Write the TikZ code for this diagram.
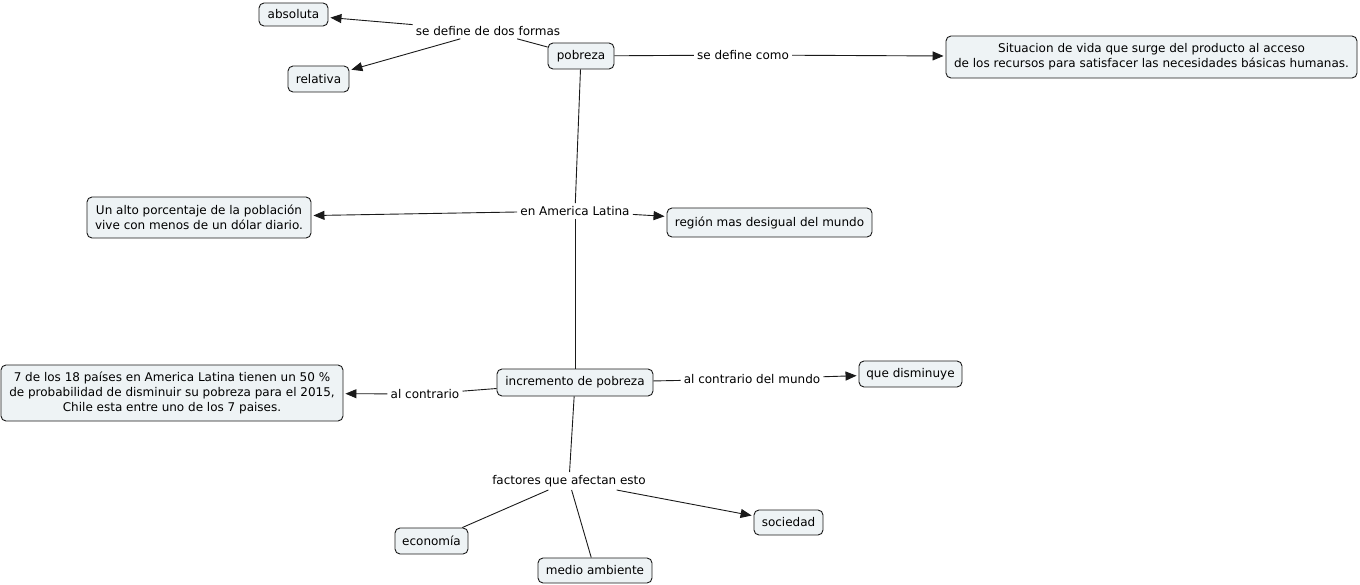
\documentclass[tikz,border=0pt]{standalone}
\usepackage{fontspec}
\setmainfont{DejaVu Sans}
\usetikzlibrary{arrows.meta}
\definecolor{boxfill}{HTML}{EEF3F5}
\definecolor{edge}{HTML}{1A1A1A}
\tikzset{
  concept/.style={draw=edge, line width=0.9pt, fill=boxfill, rounded corners=5pt, align=center,
    inner sep=0pt, font=\fontsize{12}{15}\selectfont, text=black},
  phrase/.style={inner sep=3pt, font=\fontsize{12}{15}\selectfont, text=black},
  link/.style={draw=edge, line width=0.9pt},
  arr/.style={link, -{Triangle[length=11pt,width=9pt]}, shorten >=2pt},
}
\begin{document}
\begin{tikzpicture}[x=1pt,y=-1pt]
\useasboundingbox (0,0) rectangle (1360,585);
% concepts
\node[concept, minimum width=69pt, minimum height=23pt] (abs) at (293.5,14.5) {absoluta};
\node[concept, minimum width=61pt, minimum height=26pt] (rel) at (318.5,79) {relativa};
\node[concept, minimum width=66pt, minimum height=26pt] (pob) at (581,56) {pobreza};
\node[concept, minimum width=411pt, minimum height=42pt] (sit) at (1151.5,57) {Situacion de vida que surge del producto al acceso\\de los recursos para satisfacer las necesidades básicas humanas.};
\node[concept, minimum width=224pt, minimum height=41pt] (alto) at (199,217.5) {Un alto porcentaje de la población\\vive con menos de un dólar diario.};
\node[concept, minimum width=205pt, minimum height=29pt] (reg) at (769.5,222.5) {región mas desigual del mundo};
\node[concept, minimum width=342pt, minimum height=56pt] (siete) at (172,393) {7 de los 18 países en America Latina tienen un 50 \%\\de probabilidad de disminuir su pobreza para el 2015,\\Chile esta entre uno de los 7 paises.};
\node[concept, minimum width=156pt, minimum height=27pt] (inc) at (575,382.5) {incremento de pobreza};
\node[concept, minimum width=103pt, minimum height=26pt] (dis) at (910.5,374) {que disminuye};
\node[concept, minimum width=73pt, minimum height=26pt] (eco) at (431.5,541) {economía};
\node[concept, minimum width=114pt, minimum height=25pt] (med) at (595,570.5) {medio ambiente};
\node[concept, minimum width=69pt, minimum height=25pt] (soc) at (788.5,522.5) {sociedad};
% linking phrases
\node[phrase] (l1) at (488,31) {se define de dos formas};
\node[phrase] (l2) at (743,55) {se define como};
\node[phrase] (l3) at (575,211) {en America Latina};
\node[phrase] (l4) at (425,394) {al contrario};
\node[phrase] (l5) at (752,379) {al contrario del mundo};
\node[phrase] (l6) at (569,481) {factores que afectan esto};
% connectors
\draw[link] (pob) -- (l1);
\draw[arr] (l1) -- (abs);
\draw[arr] (l1) -- (rel);
\draw[link] (pob) -- (l2);
\draw[arr] (l2) -- (sit);
\draw[link] (pob) -- (l3);
\draw[arr] (l3) -- (alto);
\draw[arr] (l3) -- (reg);
\draw[link] (l3) -- (inc);
\draw[link] (inc) -- (l4);
\draw[arr] (l4) -- (siete);
\draw[link] (inc) -- (l5);
\draw[arr] (l5) -- (dis);
\draw[link] (inc) -- (l6);
\draw[link] (l6) -- (eco);
\draw[link] (l6) -- (med);
\draw[arr] (l6) -- (soc);
\end{tikzpicture}
\end{document}
